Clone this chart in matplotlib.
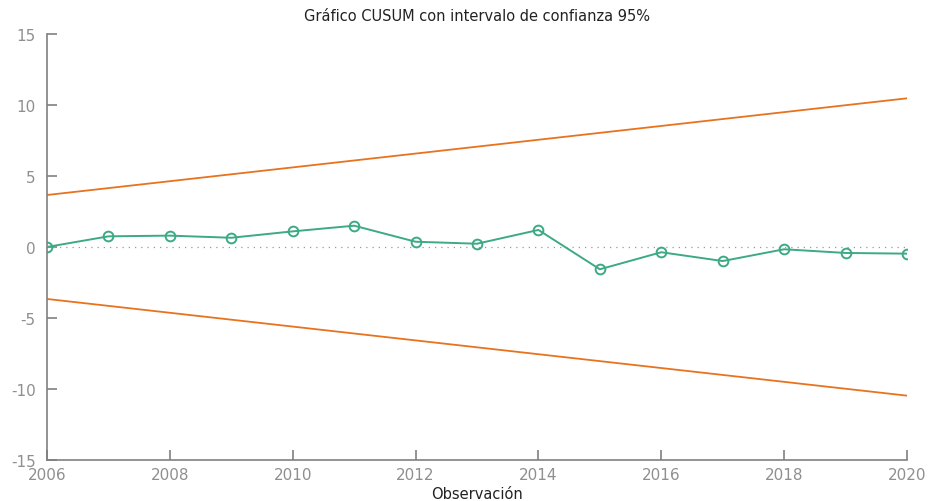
import matplotlib
matplotlib.use("Agg")
import matplotlib.pyplot as plt

plt.rcParams["axes.unicode_minus"] = False

# CUSUM values
years = [2006, 2007, 2008, 2009, 2010, 2011, 2012, 2013, 2014, 2015, 2016, 2017, 2018, 2019, 2020]
cusum = [0.0, 0.75, 0.8, 0.65, 1.1, 1.5, 0.37, 0.23, 1.2, -1.57, -0.37, -0.99, -0.16, -0.42, -0.47]

# 95% band endpoints
band_years = [2006, 2020]
band_upper = [3.66, 10.47]
band_lower = [-3.66, -10.47]

GREEN = "#3daa84"
ORANGE = "#e8731e"
GREY = "#808080"

fig = plt.figure(figsize=(9.32, 5.02), dpi=100)
ax = fig.add_axes([0.0504, 0.0817, 0.9228, 0.8486])

ax.plot(band_years, [0, 0], color="#999999", lw=0.9, ls=(0, (1, 4)))
ax.plot(band_years, band_upper, color=ORANGE, lw=1.3)
ax.plot(band_years, band_lower, color=ORANGE, lw=1.3)
ax.plot(years, cusum, color=GREEN, lw=1.4, marker="o", ms=7,
        mfc="none", mec=GREEN, mew=1.4)

ax.set_xlim(2006, 2020)
ax.set_ylim(-15, 15)
ax.set_xticks(range(2006, 2021, 2))
ax.set_yticks(range(-15, 16, 5))

for s in ["top", "right"]:
    ax.spines[s].set_visible(False)
for s in ["left", "bottom"]:
    ax.spines[s].set_color(GREY)
    ax.spines[s].set_linewidth(1.2)

ax.tick_params(direction="in", length=7, width=1.2, color=GREY,
               labelcolor="#8f8f8f", labelsize=11)
ax.tick_params(axis="x", pad=5)
ax.tick_params(axis="y", pad=8)

ax.set_title("Gráfico CUSUM con intervalo de confianza 95%", fontsize=10.5,
             color="#222222", pad=10)
ax.set_xlabel("Observación", fontsize=10.5, color="#222222", labelpad=3)

fig.savefig("out.png", dpi=100)
